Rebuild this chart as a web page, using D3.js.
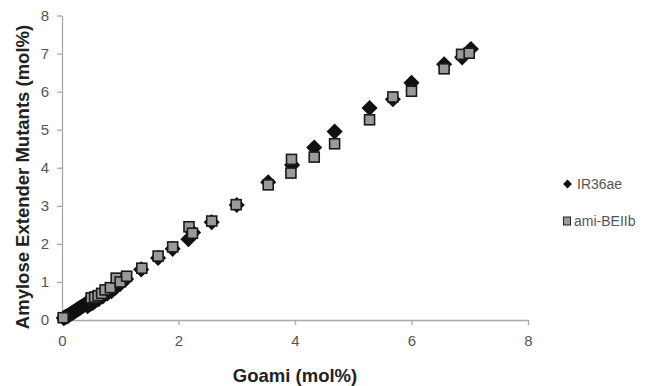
<!DOCTYPE html>
<html>
<head>
<meta charset="utf-8">
<script src="https://cdn.jsdelivr.net/npm/d3@7"></script>
<style>
	body { margin: 0; background: #fff; }
	svg { display: block; }
</style>
</head>
<body>
<svg id="chart" width="654" height="386"></svg>
<script>
// tick values on both axes
const xTicks = [0, 2, 4, 6, 8];
const yTicks = [0, 1, 2, 3, 4, 5, 6, 7, 8];

// series names
const seriesNames = ["IR36ae", "ami-BEIIb"];

// IR36ae (diamonds): [goami, mutant]
const ir36ae = [
	[0.03,0.05],[0.05,0.07],[0.07,0.09],[0.09,0.10],[0.11,0.12],[0.13,0.14],[0.15,0.16],
	[0.17,0.18],[0.19,0.20],[0.21,0.22],[0.23,0.24],[0.25,0.26],[0.27,0.28],[0.29,0.30],
	[0.31,0.32],[0.33,0.34],[0.35,0.36],[0.37,0.38],[0.39,0.40],[0.41,0.42],[0.43,0.44],
	[0.45,0.46],[0.47,0.49],[0.48,0.52],[0.50,0.55],[0.44,0.36],[0.49,0.42],[0.53,0.45],
	[0.57,0.50],[0.63,0.55],[0.70,0.62],[0.78,0.70],[0.85,0.76],[0.92,0.85],[1.00,0.95],
	[1.10,1.08],[1.36,1.33],[1.65,1.63],[1.90,1.87],[2.17,2.12],[2.25,2.30],[2.57,2.57],
	[3.00,3.02],[3.54,3.62],[3.95,4.07],[4.33,4.53],[4.68,4.95],[5.28,5.57],[5.68,5.80],
	[6.00,6.23],[6.56,6.72],[6.87,6.90],[7.02,7.12]
];

// ami-BEIIb (squares): [goami, mutant]
const amiBEIIb = [
	[0.02,0.06],[0.50,0.58],[0.56,0.60],[0.62,0.64],[0.68,0.70],[0.74,0.79],[0.83,0.85],
	[0.93,1.10],[1.00,1.00],[1.11,1.15],[1.37,1.36],[1.65,1.68],[1.90,1.92],[2.18,2.45],
	[2.24,2.28],[2.57,2.60],[2.99,3.03],[3.54,3.55],[3.93,3.86],[3.94,4.22],[4.33,4.28],
	[4.68,4.63],[5.28,5.26],[5.68,5.86],[6.00,6.01],[6.56,6.60],[6.86,6.98],[6.99,7.01]
];

const svg = d3.select("#chart");
const AXIS_COLOR = "#a9a9a9";
const LABEL_COLOR = "#555";

const x = d3.scaleLinear().domain([0, 8]).range([62, 528]);
const y = d3.scaleLinear().domain([0, 8]).range([320, 15.5]);

// x axis
const xAxis = svg.append("g")
	.attr("transform", "translate(0," + y(0) + ")")
	.call(d3.axisBottom(x).tickValues(xTicks).tickSize(5).tickSizeOuter(0).tickPadding(10));
// y axis
const yAxis = svg.append("g")
	.attr("transform", "translate(" + x(0) + ",0)")
	.call(d3.axisLeft(y).tickValues(yTicks).tickSize(5).tickSizeOuter(0).tickPadding(8));

[xAxis, yAxis].forEach(g => {
	g.selectAll("path, line").attr("stroke", AXIS_COLOR).attr("stroke-width", 1.3);
	g.selectAll("text")
		.attr("fill", LABEL_COLOR)
		.style("font-family", "'Liberation Sans', Arial, sans-serif")
		.style("font-size", "15px");
});

// axis titles
svg.append("text")
	.attr("x", 295).attr("y", 382)
	.attr("text-anchor", "middle")
	.style("font-family", "'Liberation Sans', Arial, sans-serif")
	.style("font-size", "18.5px").style("font-weight", "bold")
	.attr("fill", "#222")
	.text("Goami (mol%)");

svg.append("text")
	.attr("transform", "translate(29,177) rotate(-90)")
	.attr("text-anchor", "middle")
	.style("font-family", "'Liberation Sans', Arial, sans-serif")
	.style("font-size", "18.5px").style("font-weight", "bold")
	.attr("fill", "#222")
	.text("Amylose Extender Mutants (mol%)");

// markers
const diamond = d3.symbol().type(d3.symbolDiamond2).size(125);

svg.append("g").selectAll("path")
	.data(ir36ae).enter().append("path")
	.attr("d", diamond)
	.attr("transform", d => "translate(" + x(d[0]) + "," + y(d[1]) + ")")
	.attr("fill", "#111")
	.attr("stroke", "#111")
	.attr("stroke-width", 1.5);

const SQ = 10;
svg.append("g").selectAll("rect")
	.data(amiBEIIb).enter().append("rect")
	.attr("x", d => x(d[0]) - SQ / 2)
	.attr("y", d => y(d[1]) - SQ / 2)
	.attr("width", SQ).attr("height", SQ)
	.attr("fill", "#9a9a9a")
	.attr("stroke", "#1a1a1a")
	.attr("stroke-width", 1.6);

// legend
const legend = svg.append("g");
legend.append("path")
	.attr("d", d3.symbol().type(d3.symbolDiamond2).size(50))
	.attr("transform", "translate(567.5,184)")
	.attr("fill", "#111");
legend.append("rect")
	.attr("x", 563.5).attr("y", 217).attr("width", 7).attr("height", 8)
	.attr("fill", "#9a9a9a").attr("stroke", "#222").attr("stroke-width", 1);

seriesNames.forEach((name, i) => {
	legend.append("text")
		.attr("x", i == 0 ? 577 : 574)
		.attr("y", i == 0 ? 189 : 226)
		.attr("fill", LABEL_COLOR)
		.style("font-family", "'Liberation Sans', Arial, sans-serif")
		.style("font-size", "14px")
		.text(name);
});
</script>
</body>
</html>
